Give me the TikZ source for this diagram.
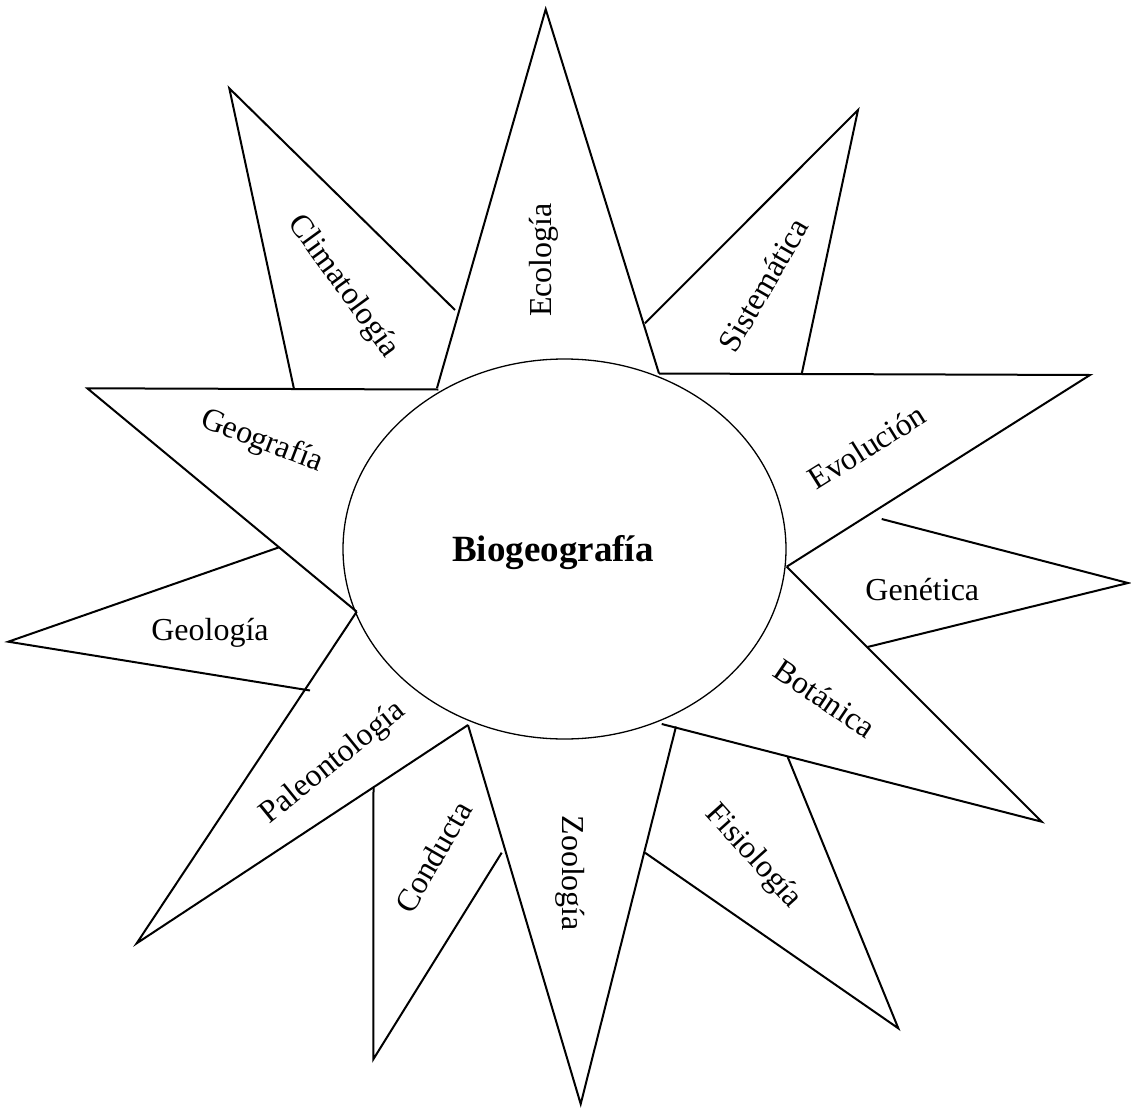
\documentclass[tikz,border=0pt]{standalone}
\usepackage{fontspec}
\setmainfont{Liberation Serif}
\begin{document}
\begin{tikzpicture}[x=0.5pt,y=-0.5pt,
  ray/.style={draw=black,line width=1pt,line join=miter},
  rim/.style={draw=black,line width=0.65pt},
  lab/.style={font=\fontsize{16}{18}\selectfont,inner sep=0pt},
  hub/.style={font=\fontsize{18.5}{21}\selectfont\bfseries,inner sep=0pt}]
\useasboundingbox (0,0) rectangle (1131,1108);
% vertices
\coordinate (E1) at (437,388);
\coordinate (Eap) at (545.7,9.3);
\coordinate (E2) at (659,373.5);
\coordinate (S1) at (645,323.3);
\coordinate (Sap) at (858,110);
\coordinate (S2) at (801.7,374);
\coordinate (Vap) at (1090,375);
\coordinate (V2) at (786.7,566.7);
\coordinate (G1) at (881.7,519);
\coordinate (Gap) at (1128,583);
\coordinate (G2) at (867.5,647);
\coordinate (Bap) at (1041.7,821.7);
\coordinate (B2) at (661.7,724);
\coordinate (F1) at (645,852.7);
\coordinate (Fap) at (898.3,1028.3);
\coordinate (F2) at (787.7,757);
\coordinate (Z1) at (468,725);
\coordinate (Zap) at (580.7,1104);
\coordinate (Z2) at (676,726.5);
\coordinate (C1) at (373.5,788);
\coordinate (C2) at (373.3,1059.3);
\coordinate (C3) at (501.7,852.7);
\coordinate (P1) at (356.7,611.7);
\coordinate (Pap) at (136.7,943.3);
\coordinate (L1) at (278.5,547.5);
\coordinate (Lap) at (8.3,641.7);
\coordinate (L2) at (310,690.5);
\coordinate (Gfap) at (87.3,388.3);
\coordinate (Gf2) at (438.3,389.5);
\coordinate (K1) at (294,389);
\coordinate (Kap) at (229.3,88.3);
\coordinate (K2) at (455,310);
% centre
\draw[rim] (564.5,549) ellipse [x radius=221.5, y radius=190];
\node[hub] (bio) at (553,553) {Biogeografía};
% rays
\draw[ray] (E1) -- (Eap) -- (E2);
\draw[ray] (S1) -- (Sap) -- (S2);
\draw[ray] (E2) -- (Vap) -- (V2);
\draw[ray] (G1) -- (Gap) -- (G2);
\draw[ray] (V2) -- (Bap) -- (B2);
\draw[ray] (F1) -- (Fap) -- (F2);
\draw[ray] (Z1) -- (Zap) -- (Z2);
\draw[ray] (C1) -- (C2) -- (C3);
\draw[ray] (P1) -- (Pap) -- (Z1);
\draw[ray] (L1) -- (Lap) -- (L2);
\draw[ray] (P1) -- (Gfap) -- (Gf2);
\draw[ray] (K1) -- (Kap) -- (K2);
% labels
\node[lab,rotate=90] (eco) at (544,260) {Ecología};
\node[lab,rotate=60] (sis) at (763.3,285) {Sistemática};
\node[lab,rotate=32] (evo) at (866.7,446.7) {Evolución};
\node[lab] (gen) at (922.3,590) {Genética};
\node[lab,rotate=-34] (bot) at (825,698.3) {Botánica};
\node[lab,rotate=-48] (fis) at (753.3,856.7) {Fisiología};
\node[lab,rotate=-90] (zoo) at (570,873.3) {Zoología};
\node[lab,rotate=60] (con) at (433.3,856.7) {Conducta};
\node[lab,rotate=39] (pal) at (333.3,763.3) {Paleontología};
\node[lab] (geo) at (210,633) {Geología};
\node[lab,rotate=-21] (gfa) at (261.7,441.7) {Geografía};
\node[lab,rotate=-54] (cli) at (343.3,286.7) {Climatología};
\end{tikzpicture}
\end{document}
